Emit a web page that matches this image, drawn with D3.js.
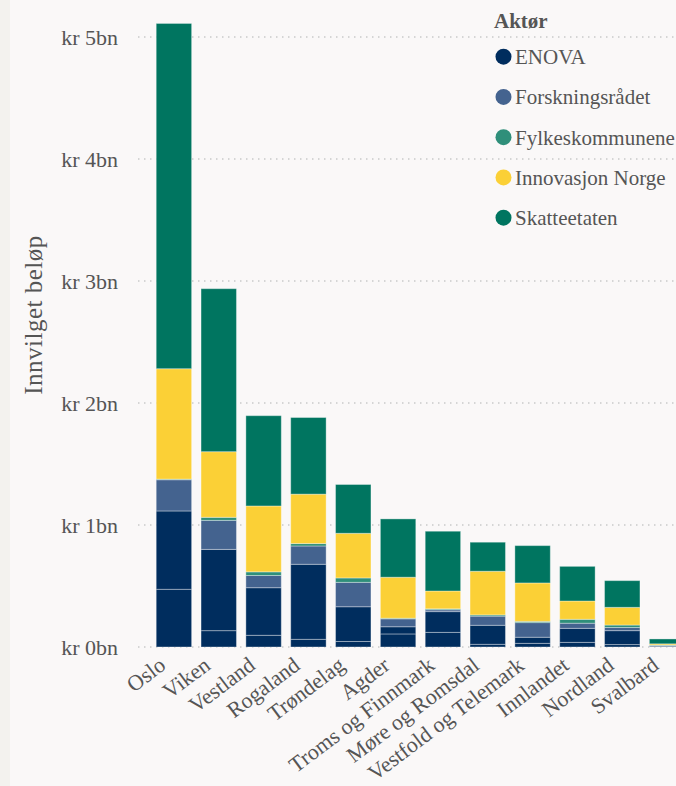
<!DOCTYPE html>
<html><head><meta charset="utf-8">
<script src="https://cdn.jsdelivr.net/npm/d3@7"></script>
<style>
html,body{margin:0;padding:0;background:#faf8f8;}
svg{display:block;}
</style></head>
<body><svg id="c" width="676" height="786"></svg>
<script>
const regions = ["Oslo","Viken","Vestland","Rogaland","Trøndelag","Agder","Troms og Finnmark","Møre og Romsdal","Vestfold og Telemark","Innlandet","Nordland","Svalbard"];
const actors = ["ENOVA","Forskningsrådet","Fylkeskommunene","Innovasjon Norge","Skatteetaten"];
const colors = ["#002d5e","#44638f","#2f8f7a","#fbd036","#007560"];
// values in billions NOK; ENOVA given in two parts (lower and upper record groups)
const enovaLower = [0.473,0.134,0.096,0.063,0.045,0.107,0.120,0.022,0.030,0.038,0.020,0.004];
const enovaUpper = [0.642,0.666,0.390,0.615,0.285,0.059,0.170,0.156,0.050,0.115,0.114,0.006];
const forskning  = [0.256,0.238,0.100,0.150,0.200,0.065,0.015,0.075,0.120,0.042,0.026,0.003];
const fylkes     = [0.005,0.025,0.030,0.020,0.036,0.005,0.008,0.010,0.010,0.032,0.020,0.003];
const innovasjon = [0.905,0.538,0.540,0.405,0.366,0.336,0.146,0.358,0.315,0.150,0.145,0.010];
const skatte     = [2.830,1.336,0.740,0.628,0.400,0.478,0.490,0.238,0.306,0.284,0.219,0.040];
const yTicks = [0,1,2,3,4,5];

const svg = d3.select("#c");
const font = "'Liberation Serif','Times New Roman',serif";
svg.append("rect").attr("x",0).attr("y",0).attr("width",10).attr("height",786).attr("fill","#f3f2ee");

const x = d3.scaleBand().domain(regions).range([151.5,689.5]).paddingInner(0.21).paddingOuter(0.105);
const y = d3.scaleLinear().domain([0,5]).range([647,37]);

// gridlines
svg.append("g").selectAll("line").data(yTicks).join("line")
  .attr("x1",138).attr("x2",676).attr("y1",d=>y(d)).attr("y2",d=>y(d))
  .attr("stroke","#c9c9c9").attr("stroke-width",1.5).attr("stroke-dasharray","1.5,4.5");

// y axis labels
const yAxis = d3.axisLeft(y).tickValues(yTicks).tickSize(0).tickPadding(0).tickFormat(d=>"kr "+d+"bn");
const ya = svg.append("g").attr("transform","translate(118,0)").call(yAxis);
ya.select(".domain").remove();
ya.selectAll("text").attr("font-family",font).attr("font-size",22).attr("fill","#555").attr("dy","0.32em");

// stacked data
const keys = ["enovaLower","enovaUpper","forskning","fylkes","innovasjon","skatte"];
const keyColor = {enovaLower:colors[0],enovaUpper:colors[0],forskning:colors[1],fylkes:colors[2],innovasjon:colors[3],skatte:colors[4]};
const src = {enovaLower,enovaUpper,forskning,fylkes,innovasjon,skatte};
const table = regions.map((r,i)=>{const o={region:r};keys.forEach(k=>o[k]=src[k][i]);return o;});
const stack = d3.stack().keys(keys)(table);

svg.append("g").selectAll("g").data(stack).join("g")
  .attr("fill",d=>keyColor[d.key])
  .selectAll("rect").data(d=>d).join("rect")
  .attr("x",d=>x(d.data.region)).attr("width",x.bandwidth())
  .attr("y",d=>y(d[1])).attr("height",d=>Math.max(0,y(d[0])-y(d[1])))
  .attr("stroke","rgba(255,255,255,0.35)").attr("stroke-width",1);

// x labels
const xl = svg.append("g");
xl.selectAll("text").data(regions).join("text")
  .attr("transform",d=>`translate(${x(d)+x.bandwidth()/2-7},${668}) rotate(-37)`)
  .attr("text-anchor","end").attr("font-family",font).attr("font-size",22).attr("fill","#555")
  .text(d=>d);

// y title
svg.append("text").attr("transform","translate(42,315) rotate(-90)").attr("text-anchor","middle")
  .attr("font-family",font).attr("font-size",25).attr("letter-spacing",0.5).attr("fill","#555").text("Innvilget beløp");

// legend
const lg = svg.append("g");
lg.append("text").attr("x",494).attr("y",28).attr("font-family",font).attr("font-size",21)
  .attr("font-weight","bold").attr("fill","#555").text("Aktør");
const items = lg.selectAll("g.item").data(actors).join("g").attr("class","item")
  .attr("transform",(d,i)=>`translate(503.5,${56.7+i*40.25})`);
items.append("circle").attr("r",8).attr("fill",(d,i)=>colors[i]);
items.append("text").attr("x",11.5).attr("dy","0.35em").attr("font-family",font).attr("font-size",21)
  .attr("fill","#555").text(d=>d);
</script></body></html>
